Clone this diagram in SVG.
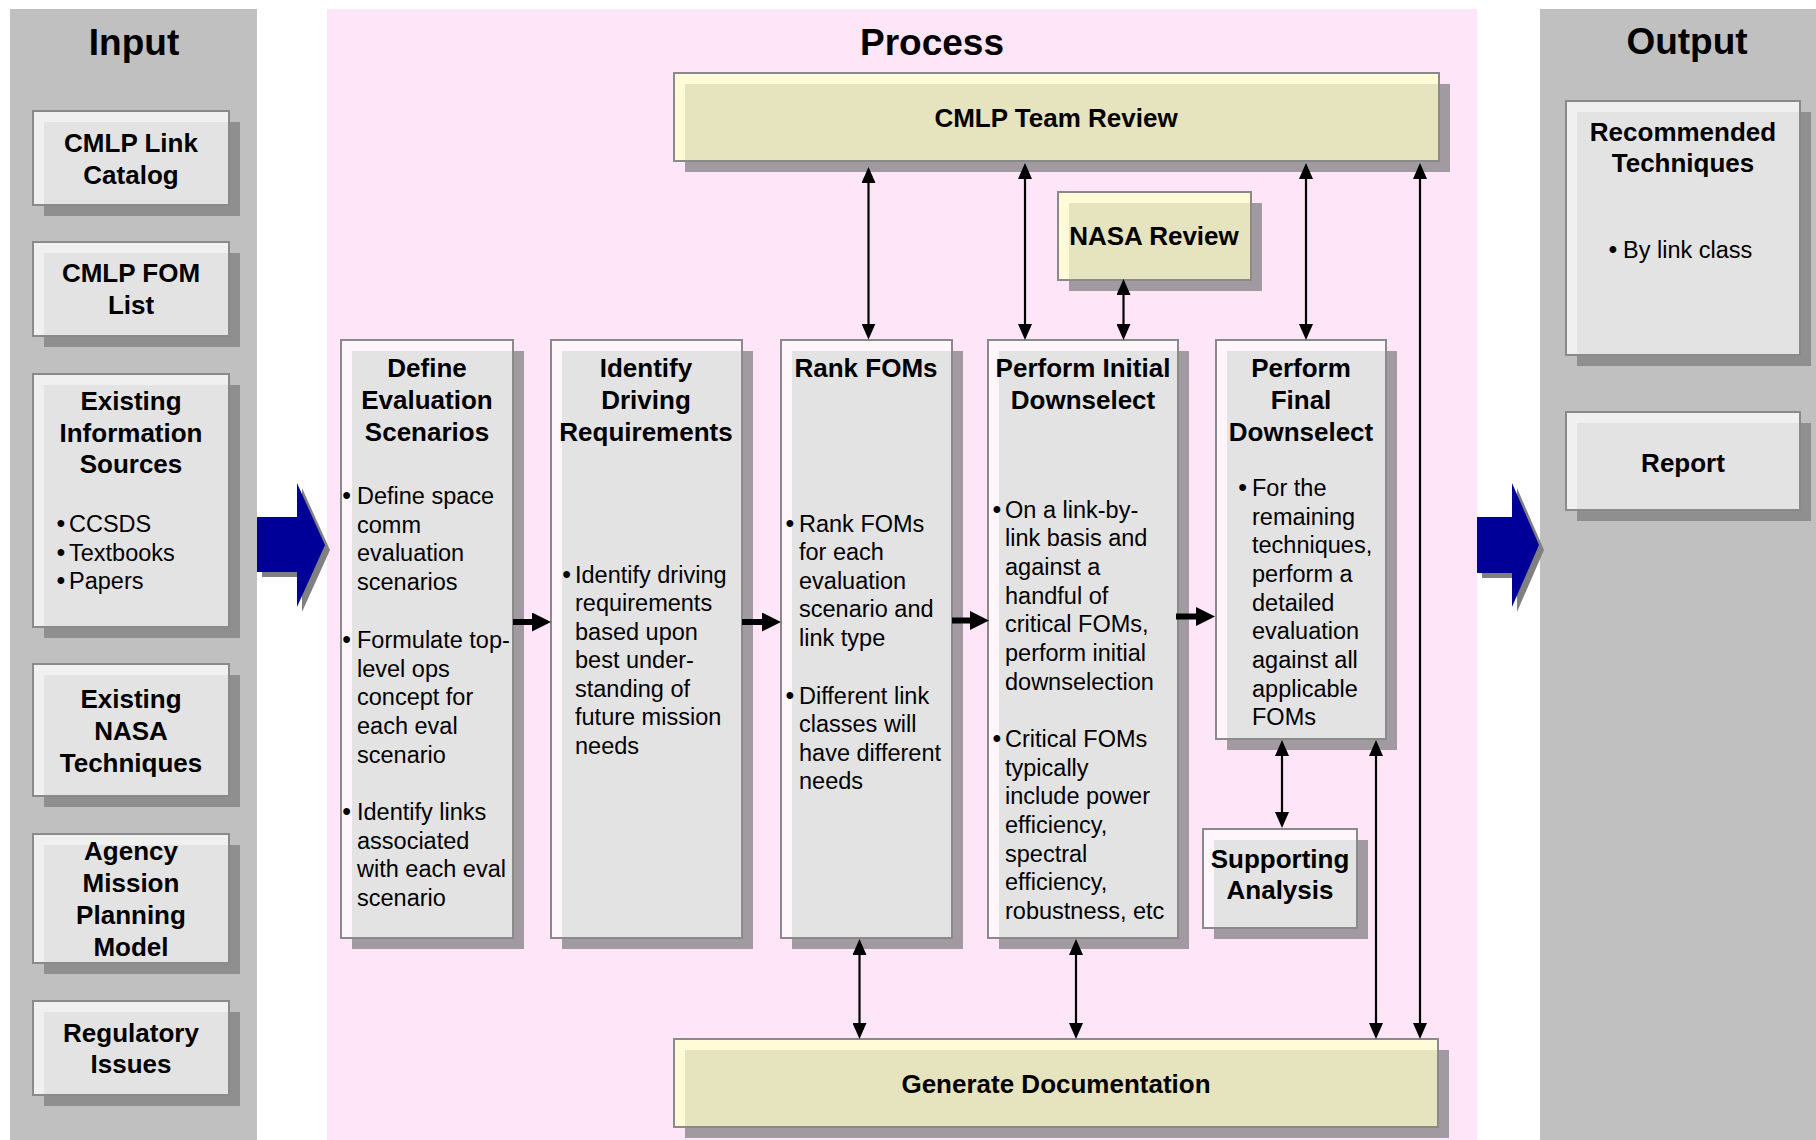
<svg xmlns="http://www.w3.org/2000/svg" width="1816" height="1140" viewBox="0 0 1816 1140">
<defs>
<style>
.pg{fill:#c0c0c0}
.pp{fill:#fee5f7}
.shg{fill:#8f8f8f}
.shp{fill:#a19aa1}
.bg{fill:#f0f0f0}
.bp{fill:#fff6fc}
.by{fill:#fffad8}
.ig{fill:#e3e3e3}
.iy{fill:#e6e3bf}
.bd{fill:none;stroke:#8a8a8a;stroke-width:2}
.h{font-family:"Liberation Sans",Arial,sans-serif;font-weight:bold;font-size:37px;text-anchor:middle;fill:#000}
.t{font-family:"Liberation Sans",Arial,sans-serif;font-weight:bold;font-size:26px;text-anchor:middle;fill:#000}
.b{font-family:"Liberation Sans",Arial,sans-serif;font-size:23.5px;fill:#000}
.d{font-family:"Liberation Sans",Arial,sans-serif;font-size:25px;fill:#000}
.thin{fill:none;stroke:#000;stroke-width:2.2;marker-start:url(#ah);marker-end:url(#ah)}
.thick{fill:none;stroke:#000;stroke-width:6;marker-end:url(#ahk)}
.big{fill:#000099}
.bigsh{fill:#808080}
</style>
<marker id="ah" viewBox="0 0 16 14" refX="10" refY="7" markerWidth="16" markerHeight="14" orient="auto-start-reverse" markerUnits="userSpaceOnUse"><path d="M0,0 L16,7 L0,14 z" fill="#000"/></marker>
<marker id="ahk" viewBox="0 0 19 19" refX="8" refY="9.5" markerWidth="19" markerHeight="19" orient="auto" markerUnits="userSpaceOnUse"><path d="M0,0 L19,9.5 L0,19 z" fill="#000"/></marker>
</defs>

<rect width="1816" height="1140" fill="#ffffff"/>

<g id="panels">
<rect class="pg" x="10" y="9" width="247" height="1131"/>
<rect class="pp" x="327" y="9" width="1150" height="1131"/>
<rect class="pg" x="1540" y="9" width="276" height="1131"/>
<text class="h" x="134" y="55">Input</text>
<text class="h" x="932" y="55">Process</text>
<text class="h" x="1687" y="54">Output</text>
</g>

<g id="big-arrows">
<path class="bigsh" d="M262,522 H302 V488 L330,550 L302,612 V577 H262 z"/>
<path class="big" d="M257,517 H297 V483 L325,545 L297,607 V572 H257 z"/>
<path class="bigsh" d="M1482,522 H1517 V488 L1544,550 L1517,612 V578 H1482 z"/>
<path class="big" d="M1477,517 H1512 V483 L1539,545 L1512,607 V573 H1477 z"/>
</g>

<!-- Input nodes -->
<g id="in-link-catalog">
<rect class="shg" x="44" y="122" width="196" height="94"/>
<rect class="bg" x="33" y="111" width="196" height="94"/>
<rect class="ig" x="44" y="122" width="185" height="83"/>
<rect class="bd" x="33" y="111" width="196" height="94"/>
<text class="t" x="131" y="152">CMLP Link</text>
<text class="t" x="131" y="184">Catalog</text>
</g>
<g id="in-fom-list">
<rect class="shg" x="44" y="253" width="196" height="94"/>
<rect class="bg" x="33" y="242" width="196" height="94"/>
<rect class="ig" x="44" y="253" width="185" height="83"/>
<rect class="bd" x="33" y="242" width="196" height="94"/>
<text class="t" x="131" y="282">CMLP FOM</text>
<text class="t" x="131" y="314">List</text>
</g>
<g id="in-info-sources">
<rect class="shg" x="44" y="385" width="196" height="253"/>
<rect class="bg" x="33" y="374" width="196" height="253"/>
<rect class="ig" x="44" y="385" width="185" height="242"/>
<rect class="bd" x="33" y="374" width="196" height="253"/>
<text class="t" x="131" y="410">Existing</text>
<text class="t" x="131" y="442">Information</text>
<text class="t" x="131" y="473">Sources</text>
<text class="d" x="56.5" y="532">•</text><text class="b" x="69" y="532">CCSDS</text>
<text class="d" x="56.5" y="560.5">•</text><text class="b" x="69" y="560.5">Textbooks</text>
<text class="d" x="56.5" y="589">•</text><text class="b" x="69" y="589">Papers</text>
</g>
<g id="in-nasa-techniques">
<rect class="shg" x="44" y="675" width="196" height="132"/>
<rect class="bg" x="33" y="664" width="196" height="132"/>
<rect class="ig" x="44" y="675" width="185" height="121"/>
<rect class="bd" x="33" y="664" width="196" height="132"/>
<text class="t" x="131" y="708">Existing</text>
<text class="t" x="131" y="740">NASA</text>
<text class="t" x="131" y="772">Techniques</text>
</g>
<g id="in-mission-model">
<rect class="shg" x="44" y="845" width="196" height="129"/>
<rect class="bg" x="33" y="834" width="196" height="129"/>
<rect class="ig" x="44" y="845" width="185" height="118"/>
<rect class="bd" x="33" y="834" width="196" height="129"/>
<text class="t" x="131" y="860">Agency</text>
<text class="t" x="131" y="892">Mission</text>
<text class="t" x="131" y="924">Planning</text>
<text class="t" x="131" y="956">Model</text>
</g>
<g id="in-regulatory">
<rect class="shg" x="44" y="1012" width="196" height="94"/>
<rect class="bg" x="33" y="1001" width="196" height="94"/>
<rect class="ig" x="44" y="1012" width="185" height="83"/>
<rect class="bd" x="33" y="1001" width="196" height="94"/>
<text class="t" x="131" y="1042">Regulatory</text>
<text class="t" x="131" y="1073">Issues</text>
</g>

<!-- Output nodes -->
<g id="out-recommended">
<rect class="shg" x="1577" y="112" width="234" height="254"/>
<rect class="bg" x="1566" y="101" width="234" height="254"/>
<rect class="ig" x="1577" y="112" width="223" height="243"/>
<rect class="bd" x="1566" y="101" width="234" height="254"/>
<text class="t" x="1683" y="141">Recommended</text>
<text class="t" x="1683" y="172">Techniques</text>
<text class="d" x="1608.5" y="258">•</text><text class="b" x="1623" y="258">By link class</text>
</g>
<g id="out-report">
<rect class="shg" x="1577" y="423" width="234" height="98"/>
<rect class="bg" x="1566" y="412" width="234" height="98"/>
<rect class="ig" x="1577" y="423" width="223" height="87"/>
<rect class="bd" x="1566" y="412" width="234" height="98"/>
<text class="t" x="1683" y="472">Report</text>
</g>

<!-- Process nodes -->
<g id="cmlp-team-review">
<rect class="shp" x="685" y="84" width="765" height="88"/>
<rect class="by" x="674" y="73" width="765" height="88"/>
<rect class="iy" x="685" y="84" width="754" height="77"/>
<rect class="bd" x="674" y="73" width="765" height="88"/>
<text class="t" x="1056" y="127">CMLP Team Review</text>
</g>
<g id="nasa-review">
<rect class="shp" x="1069" y="203" width="193" height="88"/>
<rect class="by" x="1058" y="192" width="193" height="88"/>
<rect class="iy" x="1069" y="203" width="182" height="77"/>
<rect class="bd" x="1058" y="192" width="193" height="88"/>
<text class="t" x="1154" y="245">NASA Review</text>
</g>
<g id="generate-documentation">
<rect class="shp" x="685" y="1050" width="764" height="88"/>
<rect class="by" x="674" y="1039" width="764" height="88"/>
<rect class="iy" x="685" y="1050" width="753" height="77"/>
<rect class="bd" x="674" y="1039" width="764" height="88"/>
<text class="t" x="1056" y="1093">Generate Documentation</text>
</g>

<g id="define-scenarios">
<rect class="shp" x="352" y="351" width="172" height="598"/>
<rect class="bp" x="341" y="340" width="172" height="598"/>
<rect class="ig" x="352" y="351" width="161" height="587"/>
<rect class="bd" x="341" y="340" width="172" height="598"/>
<text class="t" x="427" y="377">Define</text>
<text class="t" x="427" y="409">Evaluation</text>
<text class="t" x="427" y="440.5">Scenarios</text>
<text class="d" x="342.2" y="504">•</text>
<text class="b" x="357" y="504"><tspan x="357">Define space</tspan><tspan x="357" dy="28.7">comm</tspan><tspan x="357" dy="28.7">evaluation</tspan><tspan x="357" dy="28.7">scenarios</tspan></text>
<text class="d" x="342.2" y="648">•</text>
<text class="b" x="357" y="648"><tspan x="357">Formulate top-</tspan><tspan x="357" dy="28.7">level ops</tspan><tspan x="357" dy="28.7">concept for</tspan><tspan x="357" dy="28.7">each eval</tspan><tspan x="357" dy="28.7">scenario</tspan></text>
<text class="d" x="342.2" y="820">•</text>
<text class="b" x="357" y="820"><tspan x="357">Identify links</tspan><tspan x="357" dy="28.7">associated</tspan><tspan x="357" dy="28.7">with each eval</tspan><tspan x="357" dy="28.7">scenario</tspan></text>
</g>

<g id="identify-requirements">
<rect class="shp" x="562" y="351" width="191" height="598"/>
<rect class="bp" x="551" y="340" width="191" height="598"/>
<rect class="ig" x="562" y="351" width="180" height="587"/>
<rect class="bd" x="551" y="340" width="191" height="598"/>
<text class="t" x="646" y="377">Identify</text>
<text class="t" x="646" y="409">Driving</text>
<text class="t" x="646" y="440.5">Requirements</text>
<text class="d" x="562.2" y="582.5">•</text>
<text class="b" x="575" y="582.5"><tspan x="575">Identify driving</tspan><tspan x="575" dy="28.5">requirements</tspan><tspan x="575" dy="28.5">based upon</tspan><tspan x="575" dy="28.5">best under-</tspan><tspan x="575" dy="28.5">standing of</tspan><tspan x="575" dy="28.5">future mission</tspan><tspan x="575" dy="28.5">needs</tspan></text>
</g>

<g id="rank-foms">
<rect class="shp" x="792" y="351" width="171" height="598"/>
<rect class="bp" x="781" y="340" width="171" height="598"/>
<rect class="ig" x="792" y="351" width="160" height="587"/>
<rect class="bd" x="781" y="340" width="171" height="598"/>
<text class="t" x="866" y="376.5">Rank FOMs</text>
<text class="d" x="785.5" y="531.5">•</text>
<text class="b" x="799" y="531.5"><tspan x="799">Rank FOMs</tspan><tspan x="799" dy="28.6">for each</tspan><tspan x="799" dy="28.6">evaluation</tspan><tspan x="799" dy="28.6">scenario and</tspan><tspan x="799" dy="28.6">link type</tspan></text>
<text class="d" x="785.5" y="703.5">•</text>
<text class="b" x="799" y="703.5"><tspan x="799">Different link</tspan><tspan x="799" dy="28.6">classes will</tspan><tspan x="799" dy="28.6">have different</tspan><tspan x="799" dy="28.6">needs</tspan></text>
</g>

<g id="initial-downselect">
<rect class="shp" x="999" y="351" width="190" height="598"/>
<rect class="bp" x="988" y="340" width="190" height="598"/>
<rect class="ig" x="999" y="351" width="179" height="587"/>
<rect class="bd" x="988" y="340" width="190" height="598"/>
<text class="t" x="1083" y="376.5">Perform Initial</text>
<text class="t" x="1083" y="409">Downselect</text>
<text class="d" x="992.5" y="517.6">•</text>
<text class="b" x="1005" y="517.6"><tspan x="1005">On a link-by-</tspan><tspan x="1005" dy="28.7">link basis and</tspan><tspan x="1005" dy="28.7">against a</tspan><tspan x="1005" dy="28.7">handful of</tspan><tspan x="1005" dy="28.7">critical FOMs,</tspan><tspan x="1005" dy="28.7">perform initial</tspan><tspan x="1005" dy="28.7">downselection</tspan></text>
<text class="d" x="992.5" y="746.9">•</text>
<text class="b" x="1005" y="746.9"><tspan x="1005">Critical FOMs</tspan><tspan x="1005" dy="28.65">typically</tspan><tspan x="1005" dy="28.65">include power</tspan><tspan x="1005" dy="28.65">efficiency,</tspan><tspan x="1005" dy="28.65">spectral</tspan><tspan x="1005" dy="28.65">efficiency,</tspan><tspan x="1005" dy="28.65">robustness, etc</tspan></text>
</g>

<g id="final-downselect">
<rect class="shp" x="1227" y="351" width="170" height="399"/>
<rect class="bp" x="1216" y="340" width="170" height="399"/>
<rect class="ig" x="1227" y="351" width="159" height="388"/>
<rect class="bd" x="1216" y="340" width="170" height="399"/>
<text class="t" x="1301" y="377">Perform</text>
<text class="t" x="1301" y="409">Final</text>
<text class="t" x="1301" y="440.5">Downselect</text>
<text class="d" x="1238.2" y="496">•</text>
<text class="b" x="1252" y="496"><tspan x="1252">For the</tspan><tspan x="1252" dy="28.65">remaining</tspan><tspan x="1252" dy="28.65">techniques,</tspan><tspan x="1252" dy="28.65">perform a</tspan><tspan x="1252" dy="28.65">detailed</tspan><tspan x="1252" dy="28.65">evaluation</tspan><tspan x="1252" dy="28.65">against all</tspan><tspan x="1252" dy="28.65">applicable</tspan><tspan x="1252" dy="28.65">FOMs</tspan></text>
</g>

<g id="supporting-analysis">
<rect class="shp" x="1214" y="840" width="154" height="99"/>
<rect class="bp" x="1203" y="829" width="154" height="99"/>
<rect class="ig" x="1214" y="840" width="143" height="88"/>
<rect class="bd" x="1203" y="829" width="154" height="99"/>
<text class="t" x="1280" y="867.5">Supporting</text>
<text class="t" x="1280" y="898.5">Analysis</text>
</g>

<g id="connectors">
<path class="thick" d="M513,622 H540"/>
<path class="thick" d="M742,622 H770"/>
<path class="thick" d="M952,620.5 H978"/>
<path class="thick" d="M1176,616.5 H1204"/>
<path class="thin" d="M868.5,173 V333.5"/>
<path class="thin" d="M1025,169 V334"/>
<path class="thin" d="M1123.5,285 V334"/>
<path class="thin" d="M1306,169 V334"/>
<path class="thin" d="M1420,169 V1033"/>
<path class="thin" d="M1282,746 V822"/>
<path class="thin" d="M1376,746 V1033"/>
<path class="thin" d="M859.5,945 V1033"/>
<path class="thin" d="M1076,945 V1033"/>
</g>
</svg>
